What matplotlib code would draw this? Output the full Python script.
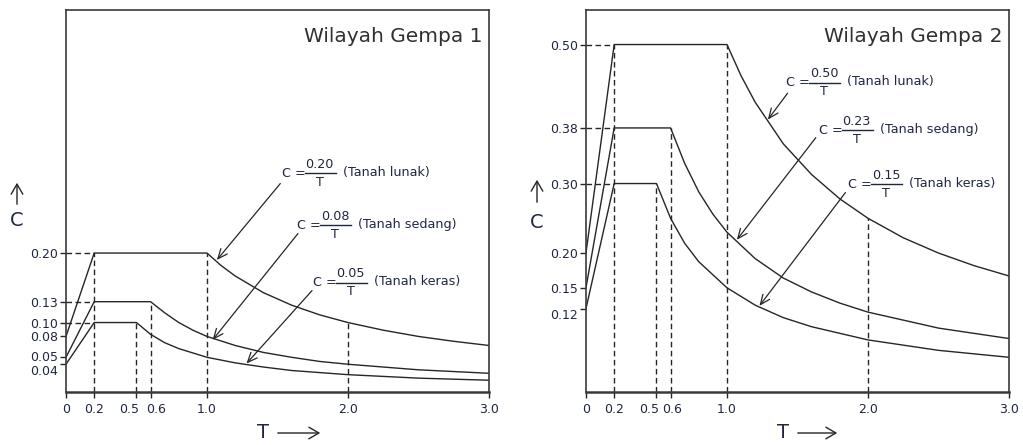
import matplotlib
matplotlib.use("Agg")
import matplotlib.pyplot as plt
import matplotlib.transforms as mtransforms
from matplotlib.lines import Line2D
from matplotlib.patches import FancyArrowPatch

plt.rcParams['font.family'] = ['DejaVu Sans']

# Wilayah Gempa 1: titik-titik kurva
Z1_LUNAK_T = [0, 0.2, 1.0, 1.1, 1.2, 1.4, 1.6, 1.8, 2.0, 2.25, 2.5, 2.75, 3.0]
Z1_LUNAK_C = [0.08, 0.20, 0.20, 0.182, 0.167, 0.143, 0.125, 0.111, 0.10, 0.089, 0.08, 0.073, 0.067]
Z1_SEDANG_T = [0, 0.2, 0.6, 0.7, 0.8, 0.9, 1.0, 1.2, 1.4, 1.6, 1.8, 2.0, 2.5, 3.0]
Z1_SEDANG_C = [0.05, 0.13, 0.13, 0.114, 0.10, 0.089, 0.08, 0.067, 0.057, 0.05, 0.044, 0.04, 0.032, 0.027]
Z1_KERAS_T = [0, 0.2, 0.5, 0.6, 0.7, 0.8, 1.0, 1.2, 1.4, 1.6, 2.0, 2.5, 3.0]
Z1_KERAS_C = [0.04, 0.10, 0.10, 0.083, 0.071, 0.0625, 0.05, 0.042, 0.036, 0.031, 0.025, 0.02, 0.017]

# Wilayah Gempa 2
Z2_LUNAK_T = [0, 0.2, 1.0, 1.1, 1.2, 1.4, 1.6, 1.8, 2.0, 2.25, 2.5, 2.75, 3.0]
Z2_LUNAK_C = [0.20, 0.50, 0.50, 0.455, 0.417, 0.357, 0.313, 0.278, 0.25, 0.222, 0.20, 0.182, 0.167]
Z2_SEDANG_T = [0, 0.2, 0.6, 0.7, 0.8, 0.9, 1.0, 1.2, 1.4, 1.6, 1.8, 2.0, 2.5, 3.0]
Z2_SEDANG_C = [0.15, 0.38, 0.38, 0.329, 0.288, 0.256, 0.23, 0.192, 0.164, 0.144, 0.128, 0.115, 0.092, 0.077]
Z2_KERAS_T = [0, 0.2, 0.5, 0.6, 0.7, 0.8, 1.0, 1.2, 1.4, 1.6, 2.0, 2.5, 3.0]
Z2_KERAS_C = [0.12, 0.30, 0.30, 0.25, 0.214, 0.1875, 0.15, 0.125, 0.107, 0.094, 0.075, 0.06, 0.05]

X_TICKS = [0, 0.2, 0.5, 0.6, 1.0, 2.0, 3.0]
X_TICK_LABELS = ["0", "0.2", "0.5", "0.6", "1.0", "2.0", "3.0"]
Z1_Y_TICKS = [0.20, 0.13, 0.10, 0.08, 0.05, 0.04]
Z2_Y_TICKS = [0.50, 0.38, 0.30, 0.20, 0.15, 0.12]

# garis putus-putus: (T, C atas) untuk vertikal, C untuk horizontal
Z1_VDASH = [(0.2, 0.20), (0.5, 0.10), (0.6, 0.13), (1.0, 0.20), (2.0, 0.10)]
Z1_HDASH = [0.20, 0.13, 0.10]
Z2_VDASH = [(0.2, 0.50), (0.5, 0.30), (0.6, 0.38), (1.0, 0.50), (2.0, 0.25)]
Z2_HDASH = [0.50, 0.38, 0.30]

# label rumus: pembilang dan jenis tanah
Z1_NUMER = ["0.20", "0.08", "0.05"]
Z2_NUMER = ["0.50", "0.23", "0.15"]
SOIL_NAMES = ["(Tanah lunak)", "(Tanah sedang)", "(Tanah keras)"]

# posisi teks dan panah (ekor -> kepala) dalam koordinat data
Z1_TEXT_POS = [(1.53, 0.315), (1.64, 0.240), (1.75, 0.157)]
Z1_ARROWS = [((1.52, 0.300), (1.07, 0.190)),
             ((1.645, 0.228), (1.04, 0.075)),
             ((1.745, 0.146), (1.28, 0.041))]
Z2_TEXT_POS = [(1.42, 0.445), (1.65, 0.377), (1.86, 0.299)]
Z2_ARROWS = [((1.43, 0.430), (1.29, 0.392)),
             ((1.63, 0.366), (1.07, 0.219)),
             ((1.84, 0.287), (1.23, 0.124))]

# geseran label sumbu (piksel) seperti pada gambar asli
Z1_XLABEL_SHIFT = {"0.5": -7, "0.6": 5}
Z2_XLABEL_SHIFT = {"0.5": -7, "0.6": 1}
Z1_YLABEL_SHIFT = {"0.05": 1, "0.04": -6}
Z2_YLABEL_SHIFT = {"0.12": -5}

LINE_COLOR = '#262626'
TEXT_COLOR = '#1f2740'
PX = 0.72  # 1 piksel dalam point pada dpi 100


def shift_label(tl, dx, dy, fig):
    off = mtransforms.ScaledTranslation(dx / 100, dy / 100, fig.dpi_scale_trans)
    tl.set_transform(tl.get_transform() + off)


def draw_panel(ax, curves, yticks, vdash, hdash, numers, text_pos, arrows, title,
               xshift, yshift):
    for t, c in curves:
        ax.plot(t, c, color=LINE_COLOR, lw=1.0, solid_joinstyle='round')
    for t, c in vdash:
        ax.plot([t, t], [0, c], color=LINE_COLOR, lw=1.0, ls=(0, (4, 2.5)))
    for c in hdash:
        ax.plot([0, 0.2], [c, c], color=LINE_COLOR, lw=1.0, ls=(0, (4, 2.5)))

    # "C = angka / T (Tanah ...)"
    for numer, name, (x, y) in zip(numers, SOIL_NAMES, text_pos):
        kw = dict(xycoords='data', textcoords='offset points', fontsize=9.2,
                  color=TEXT_COLOR, va='center')
        ax.annotate("C =", (x, y), xytext=(0, 0), ha='left', **kw)
        ax.annotate(numer, (x, y), xytext=(38 * PX, 9 * PX), ha='center', **kw)
        ax.annotate("T", (x, y), xytext=(38 * PX, -9 * PX), ha='center', **kw)
        ax.annotate(name, (x, y), xytext=(61 * PX, 1 * PX), ha='left', **kw)
    for (x0, y0), (x1, y1) in arrows:
        ax.annotate('', xy=(x1, y1), xytext=(x0, y0),
                    arrowprops=dict(arrowstyle='->,head_length=0.7,head_width=0.3',
                                    color=LINE_COLOR, lw=0.9, shrinkA=0, shrinkB=0))

    ax.text(0.985, 0.93, title, transform=ax.transAxes, ha='right', va='center',
            fontsize=14.5, color='#303030')

    ax.set_xlim(0, 3.0)
    ax.set_ylim(0, 0.55)
    ax.set_xticks(X_TICKS)
    ax.set_xticklabels(X_TICK_LABELS)
    ax.set_yticks(yticks)
    ax.set_yticklabels([f"{v:.2f}" for v in yticks])
    ax.tick_params(axis='both', direction='out', length=4, width=1.0,
                   labelsize=9, labelcolor=TEXT_COLOR, color=LINE_COLOR)
    ax.tick_params(axis='x', pad=4)
    ax.tick_params(axis='y', pad=2)
    for sp in ax.spines.values():
        sp.set_color('#3a3a3a')
        sp.set_linewidth(1.2)
    ax.spines['bottom'].set_linewidth(1.8)

    for tl in ax.get_yticklabels():
        if tl.get_text() in yshift:
            shift_label(tl, 0, yshift[tl.get_text()], ax.figure)
    for tl in ax.get_xticklabels():
        if tl.get_text() in xshift:
            shift_label(tl, xshift[tl.get_text()], 0, ax.figure)


fig = plt.figure(figsize=(10.23, 4.45), dpi=100)
ax1 = fig.add_axes([0.0645, 0.119, 0.4135, 0.859])
ax2 = fig.add_axes([0.5728, 0.119, 0.4135, 0.859])

draw_panel(ax1,
           [(Z1_LUNAK_T, Z1_LUNAK_C), (Z1_SEDANG_T, Z1_SEDANG_C), (Z1_KERAS_T, Z1_KERAS_C)],
           Z1_Y_TICKS, Z1_VDASH, Z1_HDASH, Z1_NUMER, Z1_TEXT_POS, Z1_ARROWS,
           "Wilayah Gempa 1", Z1_XLABEL_SHIFT, Z1_YLABEL_SHIFT)
draw_panel(ax2,
           [(Z2_LUNAK_T, Z2_LUNAK_C), (Z2_SEDANG_T, Z2_SEDANG_C), (Z2_KERAS_T, Z2_KERAS_C)],
           Z2_Y_TICKS, Z2_VDASH, Z2_HDASH, Z2_NUMER, Z2_TEXT_POS, Z2_ARROWS,
           "Wilayah Gempa 2", Z2_XLABEL_SHIFT, Z2_YLABEL_SHIFT)

# garis pecahan (posisi sumbu sudah tetap)
for ax, positions in [(ax1, Z1_TEXT_POS), (ax2, Z2_TEXT_POS)]:
    for x, y in positions:
        px, py = ax.transData.transform((x, y))
        fig.add_artist(Line2D([(px + 23) / 1023, (px + 54) / 1023], [py / 445, py / 445],
                              transform=fig.transFigure, color=TEXT_COLOR, lw=1.0))

# sumbu C dengan panah ke atas, sumbu T dengan panah ke kanan
for cx, cy0, cy1, ctext_y in [(17, 207, 180, 220), (537, 205, 177, 222)]:
    fig.add_artist(FancyArrowPatch(
        (cx / 1023, 1 - cy0 / 445), (cx / 1023, 1 - cy1 / 445),
        transform=fig.transFigure, arrowstyle='->,head_length=0.6,head_width=0.35',
        mutation_scale=12, color=LINE_COLOR, lw=1.0))
    fig.text(cx / 1023, 1 - ctext_y / 445, "C", ha='center', va='center',
             fontsize=14, color=TEXT_COLOR)
for tx, x0, x1 in [(263, 275, 323), (783, 795, 840)]:
    fig.text(tx / 1023, 1 - 433 / 445, "T", ha='center', va='center',
             fontsize=14, color=TEXT_COLOR)
    fig.add_artist(FancyArrowPatch(
        (x0 / 1023, 1 - 433 / 445), (x1 / 1023, 1 - 433 / 445),
        transform=fig.transFigure, arrowstyle='->,head_length=0.6,head_width=0.35',
        mutation_scale=12, color=LINE_COLOR, lw=1.0))

fig.savefig("out.png", dpi=100)
